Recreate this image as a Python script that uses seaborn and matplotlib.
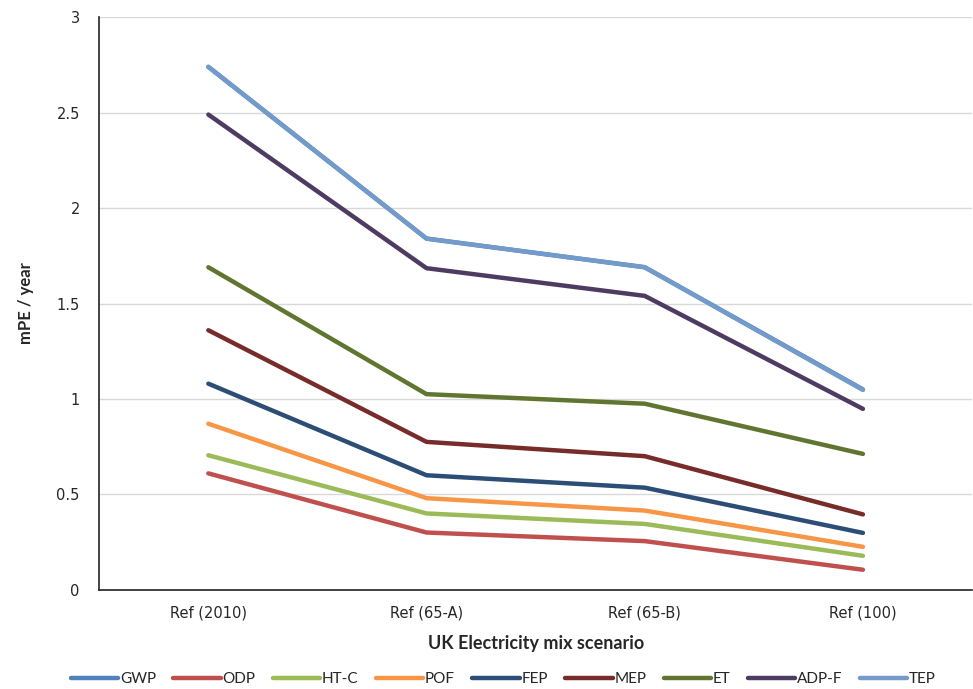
import matplotlib
matplotlib.use("Agg")
import matplotlib.pyplot as plt
import seaborn as sns
import pandas as pd

scenarios = ["Ref (2010)", "Ref (65-A)", "Ref (65-B)", "Ref (100)"]
series_names = ["GWP", "ODP", "HT-C", "POF", "FEP", "MEP", "ET", "ADP-F", "TEP"]

gwp = [2.74, 1.84, 1.69, 1.05]
odp = [0.61, 0.30, 0.255, 0.105]
htc = [0.705, 0.40, 0.345, 0.178]
pof = [0.87, 0.48, 0.415, 0.225]
fep = [1.08, 0.60, 0.535, 0.298]
mep = [1.36, 0.775, 0.70, 0.395]
et = [1.69, 1.025, 0.975, 0.712]
adpf = [2.49, 1.685, 1.54, 0.948]
tep = [2.74, 1.84, 1.69, 1.047]

values = [gwp, odp, htc, pof, fep, mep, et, adpf, tep]
colors = ["#4F81BD", "#C0504D", "#9BBB59", "#F79646", "#2C4D75",
          "#772C2A", "#5F7530", "#4D3B62", "#729ACA"]

rows = []
for name, vals in zip(series_names, values):
    for i, v in enumerate(vals):
        rows.append({"scenario": i, "impact": name, "value": v})
df = pd.DataFrame(rows)

sns.set_style("white")
fig = plt.figure(figsize=(9.73, 6.89), dpi=100)
ax = fig.add_axes([0.102, 0.144, 0.897, 0.831])

sns.lineplot(data=df, x="scenario", y="value", hue="impact",
             hue_order=series_names, palette=colors, linewidth=3.2,
             solid_capstyle="round", ax=ax, legend=True)

ax.set_xlim(-0.5, 3.5)
ax.set_ylim(0, 3)
ax.set_xticks(range(len(scenarios)))
ax.set_xticklabels(scenarios, fontsize=10.5)
ax.set_yticks([0, 0.5, 1, 1.5, 2, 2.5, 3])
ax.set_yticklabels(["0", "0.5", "1", "1.5", "2", "2.5", "3"], fontsize=10.5)
ax.tick_params(axis="x", length=0, pad=11)
ax.tick_params(axis="y", length=0, pad=14)
ax.yaxis.grid(True, color="#D9D9D9", linewidth=1)
ax.set_axisbelow(True)
for side in ["top", "right"]:
    ax.spines[side].set_visible(False)
ax.spines["left"].set_color("#222222")
ax.spines["bottom"].set_color("#222222")
ax.spines["left"].set_linewidth(1.2)
ax.spines["bottom"].set_linewidth(1.2)

ax.set_xlabel("UK Electricity mix scenario", fontsize=13, fontweight="bold",
              family="Lato", labelpad=11)
ax.set_ylabel("mPE / year", fontsize=12, fontweight="bold", family="Lato",
              labelpad=16)

handles, labels = ax.get_legend_handles_labels()
ax.legend(handles, labels, loc="upper center", bbox_to_anchor=(0.463, -0.12),
          ncol=9, frameon=False, handlelength=3.1, handletextpad=0.1,
          columnspacing=1.15, prop={"family": "Lato", "size": 11})

fig.savefig("out.png", dpi=100)
